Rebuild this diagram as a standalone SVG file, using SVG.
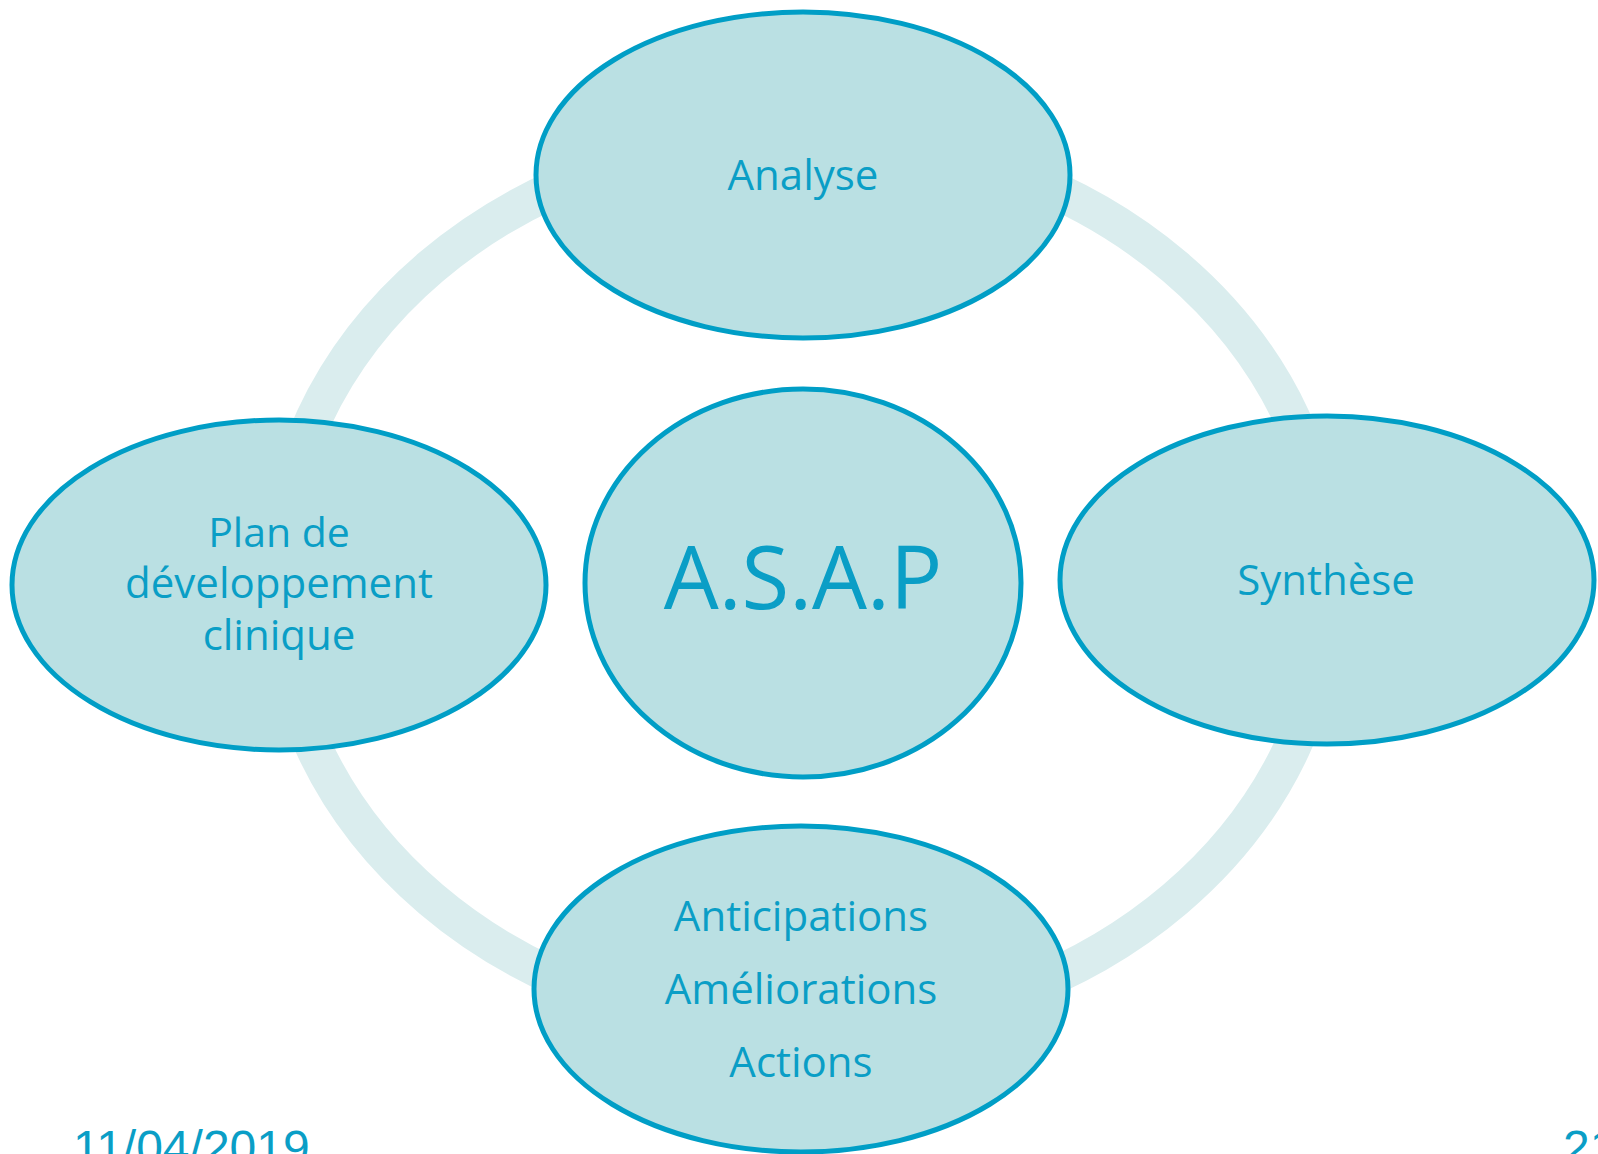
<svg xmlns="http://www.w3.org/2000/svg" width="1598" height="1154" viewBox="0 0 1598 1154">
  <style>
    .node { fill: #BAE0E3; stroke: #009EC6; stroke-width: 5; }
    .label { font-family: "Open Sans", "Noto Sans", sans-serif; fill: #0A9EC6; text-anchor: middle; }
    .footer { font-family: "Liberation Sans", Arial, sans-serif; fill: #0A9EC6; font-size: 48px; }
    .ring { fill: none; stroke: #DAEDEE; stroke-width: 37; }
  </style>
  <rect width="1598" height="1154" fill="#FFFFFF"/>

  <!-- cycle ring behind the nodes -->
  <g id="connectors">
    <ellipse class="ring" cx="803" cy="583" rx="526" ry="447"/>
  </g>

  <g id="node-analyse">
    <ellipse class="node" cx="803" cy="175" rx="267" ry="163"/>
    <text class="label" x="803" y="190" font-size="42">Analyse</text>
  </g>

  <g id="node-synthese">
    <ellipse class="node" cx="1327" cy="580" rx="267" ry="164"/>
    <text class="label" x="1326" y="595" font-size="42">Synthèse</text>
  </g>

  <g id="node-actions">
    <ellipse class="node" cx="801" cy="989" rx="267" ry="163"/>
    <text class="label" x="801" y="931" font-size="42">Anticipations</text>
    <text class="label" x="801" y="1004" font-size="42">Améliorations</text>
    <text class="label" x="801" y="1077" font-size="42">Actions</text>
  </g>

  <g id="node-plan">
    <ellipse class="node" cx="279" cy="585" rx="267" ry="165"/>
    <text class="label" x="279" y="547" font-size="41">Plan de</text>
    <text class="label" x="279" y="598" font-size="42">développement</text>
    <text class="label" x="279" y="650" font-size="42">clinique</text>
  </g>

  <g id="node-center">
    <ellipse class="node" cx="803" cy="583" rx="218" ry="194"/>
    <text class="label" x="803" y="609" font-size="87">A.S.A.P</text>
  </g>

  <g id="footer">
    <text class="footer" x="73" y="1164">11/04/2019</text>
    <text class="footer" x="1563" y="1164">21</text>
  </g>
</svg>
